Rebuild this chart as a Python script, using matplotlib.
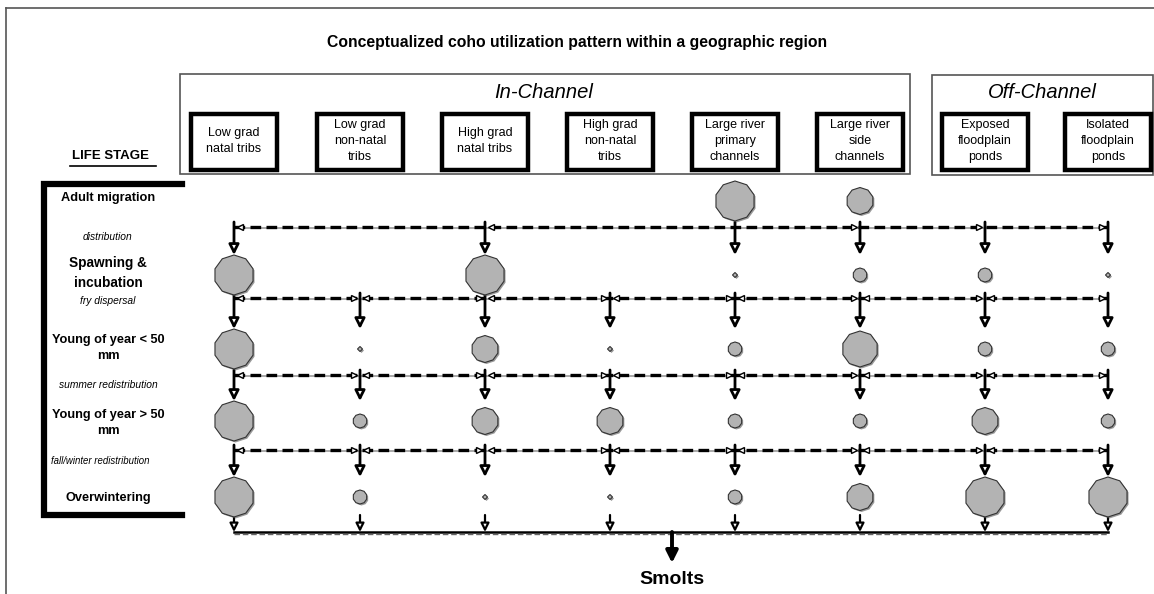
import matplotlib
matplotlib.use("Agg")
import matplotlib.pyplot as plt
from matplotlib.patches import Rectangle, RegularPolygon

plt.rcParams['font.family'] = ['Liberation Sans', 'DejaVu Sans']

# ---------------- data ----------------
title = "Conceptualized coho utilization pattern within a geographic region"
habitats = ["Low grad\nnatal tribs", "Low grad\nnon-natal\ntribs", "High grad\nnatal tribs",
            "High grad\nnon-natal\ntribs", "Large river\nprimary\nchannels", "Large river\nside\nchannels",
            "Exposed\nfloodplain\nponds", "Isolated\nfloodplain\nponds"]
groups = ["In-Channel", "Off-Channel"]
group_members = [[0, 1, 2, 3, 4, 5], [6, 7]]
life_stages = ["Adult migration", "Spawning &\nincubation", "Young of year < 50\nmm",
               "Young of year > 50\nmm", "Overwintering"]
transitions = ["distribution", "fry dispersal", "summer redistribution", "fall/winter redistribution"]
# relative utilization level (0 = none ... 5 = high), rows = life stages, cols = habitats
usage = [
    [0, 0, 0, 0, 5, 3, 0, 0],
    [5, 0, 5, 0, 1, 2, 2, 1],
    [5, 1, 3, 1, 2, 4, 2, 2],
    [5, 2, 3, 3, 2, 2, 3, 2],
    [5, 2, 1, 1, 2, 3, 5, 5],
]
# habitats receiving fish along each transition
transition_targets = [[0, 2, 4, 5, 6, 7], list(range(8)), list(range(8)), list(range(8))]
outcome = "Smolts"

# ---------------- layout / style ----------------
W, H = 1154, 594
col_x = [234, 360, 485, 610, 735, 860, 985, 1108]
row_y = [201, 275, 349, 421, 497]
line_y = [227, 298, 375, 450]
bottom_y = 532
radius = {0: 0, 1: 2.5, 2: 7, 3: 13.5, 4: 18, 5: 20}

fig = plt.figure(figsize=(W / 100, H / 100), dpi=100)
ax = fig.add_axes([0, 0, 1, 1])
ax.set_xlim(0, W)
ax.set_ylim(H, 0)
ax.axis('off')

# outer frame (left and top)
ax.plot([6, 6], [H, 8], color='#555555', lw=1.2)
ax.plot([6, W], [8, 8], color='#555555', lw=1.2)

ax.text(577, 42, title, ha='center', va='center', fontsize=11.3, fontweight='bold')

# group boxes
group_boxes = [(180, 74, 910, 174), (932, 75, 1153, 175)]
group_label_x = [544, 1042]
for (x0, y0, x1, y1), g, gx in zip(group_boxes, groups, group_label_x):
    ax.add_patch(Rectangle((x0, y0), x1 - x0, y1 - y0, fill=False, ec='#555555', lw=1.2))
    ax.text(gx, 93, g, ha='center', va='center', fontsize=14.5, style='italic')

# habitat boxes
for x, name in zip(col_x, habitats):
    ax.add_patch(Rectangle((x - 43, 114), 86, 56, fill=False, ec='black', lw=3.2))
    ax.text(x, 141, name, ha='center', va='center', fontsize=9, linespacing=1.45)

# life stage header and bracket
ax.text(110, 156, "LIFE STAGE", ha='center', va='center', fontsize=9.5, fontweight='bold')
ax.plot([70, 156], [166, 166], color='black', lw=1.2)
ax.plot([182, 44, 44, 182], [184, 184, 515, 515], color='black', lw=4.5,
        solid_joinstyle='miter')

label_y = [198, 273, 348, 423, 498]
for s, y in zip(life_stages, label_y):
    fs = 9.8 if s.startswith("Spawning") else 9.2
    ax.text(108, y, s, ha='center', va='center', fontsize=fs, fontweight='bold', linespacing=1.55)
trans_label = [(108, 237, 7.4), (108, 301, 7.4), (108, 385, 7.4), (100, 461, 6.9)]
for t, (x, y, fs) in zip(transitions, trans_label):
    ax.text(x, y, t, ha='center', va='center', fontsize=fs, style='italic')

# horizontal dashed redistribution lines
def dashed(y, x0, x1):
    ax.plot([x0, x1], [y + 1, y + 1], color='#999999', lw=1.2, zorder=2)
    ax.plot([x0, x1], [y, y], color='black', lw=2.4, ls=(0, (3.2, 1.6)), zorder=3)

for k, y in enumerate(line_y):
    dashed(y, col_x[0], col_x[-1])
    if k == 0:
        for i in (0, 2):
            ax.plot(col_x[i] + 6, y, marker='<', ms=5, mfc='white', mec='black', mew=1, zorder=4)
        for i in (5, 6, 7):
            ax.plot(col_x[i] - 6, y, marker='>', ms=5, mfc='white', mec='black', mew=1, zorder=4)
    else:
        for i, x in enumerate(col_x):
            if i > 0:
                ax.plot(x - 6, y, marker='>', ms=5, mfc='white', mec='black', mew=1, zorder=4)
            if i < len(col_x) - 1:
                ax.plot(x + 6, y, marker='<', ms=5, mfc='white', mec='black', mew=1, zorder=4)

# vertical arrows
def varrow(x, y0, y1, lw=2.0, hw=0.3, hl=0.6):
    ax.annotate("", xy=(x, y1), xytext=(x, y0),
                arrowprops=dict(arrowstyle=f'-|>,head_width={hw},head_length={hl}', lw=lw,
                                ec='black', fc='white', shrinkA=0, shrinkB=0), zorder=5)

for k, targets in enumerate(transition_targets):
    for i in targets:
        varrow(col_x[i], line_y[k] - 5, row_y[k + 1] - 20)

# bottom collection line
ax.plot([col_x[0], col_x[-1]], [bottom_y, bottom_y], color='black', lw=1.8, zorder=3)
ax.plot([col_x[0], col_x[-1]], [bottom_y + 1.5, bottom_y + 1.5], color='#666666', lw=1,
        ls=(0, (4, 2)), zorder=3)
for x in col_x:
    varrow(x, 515, bottom_y, lw=1.6, hw=0.25, hl=0.5)

# usage symbols
for r, y in enumerate(row_y):
    for c, x in enumerate(col_x):
        rad = radius[usage[r][c]]
        if rad <= 0:
            continue
        nv = 4 if rad < 4 else 10
        ax.add_patch(RegularPolygon((x + 1.5, y + 1.5), nv, radius=rad, fc='#555555',
                                    ec='none', zorder=6, alpha=0.6))
        ax.add_patch(RegularPolygon((x, y), nv, radius=rad, fc='#b3b3b3',
                                    ec='#333333', lw=0.8, zorder=7))

# smolts
ax.annotate("", xy=(672, 563), xytext=(672, bottom_y),
            arrowprops=dict(arrowstyle='-|>,head_width=0.35,head_length=0.7', lw=2.8,
                            color='black', shrinkA=0, shrinkB=0), zorder=5)
ax.text(672, 579, outcome, ha='center', va='center', fontsize=14, fontweight='bold')

fig.savefig("out.png", dpi=100)
